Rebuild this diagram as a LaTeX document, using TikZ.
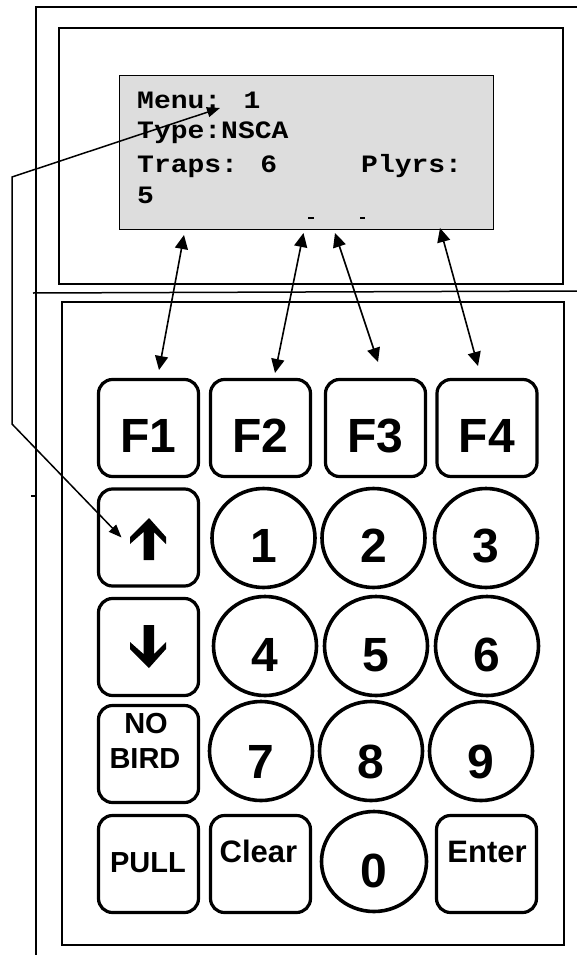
\documentclass[tikz,border=0pt]{standalone}
\usepackage{fontspec}
\setmainfont{Liberation Sans}
\newfontfamily\lcdfont{Liberation Mono}[FakeStretch=1.12]
\usetikzlibrary{arrows.meta,shapes.geometric}
\definecolor{lcdgray}{RGB}{221,221,221}
\begin{document}
\begin{tikzpicture}[x=1pt,y=-1pt,
  frame/.style={line width=1.5pt},
  keybox/.style={draw, rounded corners=14pt, line width=3.2pt, minimum width=100pt, minimum height=97pt, inner sep=0pt},
  numkey/.style={draw, ellipse, line width=3.6pt, minimum width=103pt, minimum height=99pt, inner sep=0pt},
  biglbl/.style={anchor=base, inner sep=0pt, font=\fontsize{48}{48}\selectfont\bfseries},
  smalllbl/.style={anchor=base, inner sep=0pt, font=\fontsize{29}{29}\selectfont\bfseries},
  midlbl/.style={anchor=base, inner sep=0pt, font=\fontsize{31}{31}\selectfont\bfseries},
  lcdline/.style={anchor=base west, inner sep=0pt, font=\lcdfont\fontsize{25}{30}\selectfont\bfseries},
  link/.style={line width=1.6pt, {Triangle[length=14pt,width=13pt]}-{Triangle[length=14pt,width=13pt]}},
  bentlink/.style={line width=1.5pt, {Triangle[length=13pt,width=10pt]}-{Triangle[length=13pt,width=10pt]}},
  arrowglyph/.style={fill=black}
]
\useasboundingbox[fill=white] (0,0) rectangle (577,955);

% outer housing lines
\draw[frame] (577,7) -- (36,7) -- (36,955);
\draw[frame] (33,293) -- (577,291);
\draw[frame] (31,496) -- (37,496);

% display frame and LCD
\draw[frame] (59,28) rectangle (563,284);
\node[draw, fill=lcdgray, line width=1.5pt, minimum width=374pt, minimum height=153.5pt, inner sep=0pt] (lcd) at (306.25,152.5) {};
\node[lcdline] (l1) at (137,109) {Menu: 1};
\node[lcdline] (l2) at (137,139) {Type:NSCA};
\node[lcdline] (l3) at (137,172) {Traps: 6\ \ \ \ \ Plyrs:};
\node[lcdline] (l4) at (137,203) {5};
\draw[line width=1.5pt] (308,218) -- (314,218);
\draw[line width=1.5pt] (360,218) -- (365,218);

% keypad frame
\draw[frame] (62,302) rectangle (564,945);

% function keys
\node[keybox] (f1) at (148.5,428) {};
\node[keybox] (f2) at (260.5,428) {};
\node[keybox] (f3) at (375.5,428) {};
\node[keybox] (f4) at (487,428) {};
\node[biglbl] (f1t) at (148.5,452) {F1};
\node[biglbl] (f2t) at (260.5,452) {F2};
\node[biglbl] (f3t) at (375.5,452) {F3};
\node[biglbl] (f4t) at (487,452) {F4};

% left column keys
\node[keybox] (up) at (148.5,537.5) {};
\node[keybox] (down) at (148.5,647) {};
\node[keybox] (nobird) at (148.5,754) {};
\node[keybox] (pull) at (148.5,864) {};
\node[keybox] (clear) at (260.5,864) {};
\node[keybox] (enter) at (486.5,864) {};

\fill[arrowglyph] (149,518) -- (166,537) -- (166,544) -- (154,532) -- (154,560) -- (143.5,560) -- (143.5,532) -- (130,544) -- (130,537) -- cycle;
\fill[arrowglyph] (149,668) -- (166,649) -- (166,642) -- (154,654) -- (154,625) -- (143.5,625) -- (143.5,654) -- (130,642) -- (130,649) -- cycle;

\node[smalllbl] (not) at (146,733) {NO};
\node[smalllbl] (birdt) at (145,768) {BIRD};
\node[smalllbl] (pullt) at (148,872) {PULL};
\node[midlbl] (cleart) at (258.5,862) {Clear};
\node[midlbl] (entert) at (487,862) {Enter};

% number keys
\node[numkey] (n1) at (263.5,538) {};
\node[numkey] (n2) at (373.5,538) {};
\node[numkey] (n3) at (486,538) {};
\node[numkey] (n4) at (265,646) {};
\node[numkey] (n5) at (376,646) {};
\node[numkey] (n6) at (487,646) {};
\node[numkey] (n7) at (261,751) {};
\node[numkey] (n8) at (371,751) {};
\node[numkey] (n9) at (481,751) {};
\node[numkey, minimum width=105pt, minimum height=100pt] (n0) at (374,861.5) {};
\node[biglbl] (n1t) at (263.5,562) {1};
\node[biglbl] (n2t) at (373.5,562) {2};
\node[biglbl] (n3t) at (486,562) {3};
\node[biglbl] (n4t) at (265,671) {4};
\node[biglbl] (n5t) at (376,671) {5};
\node[biglbl] (n6t) at (487,671) {6};
\node[biglbl] (n7t) at (261,778) {7};
\node[biglbl] (n8t) at (371,778) {8};
\node[biglbl] (n9t) at (481,778) {9};
\node[biglbl] (n0t) at (374,887) {0};

% connectors
\coordinate (m1) at (220,108);
\coordinate (b1) at (12,177);
\coordinate (b2) at (12,424);
\coordinate (u1) at (121.5,537.5);
\draw[bentlink] (m1) -- (b1) -- (b2) -- (u1);

\coordinate (t1) at (184,235);
\coordinate (k1) at (159,370);
\coordinate (t2) at (303.5,233);
\coordinate (k2) at (275,373);
\coordinate (t3) at (335,233);
\coordinate (k3) at (378,362);
\coordinate (t4) at (440,228);
\coordinate (k4) at (478,366);
\draw[link] (t1) -- (k1);
\draw[link] (t2) -- (k2);
\draw[link] (t3) -- (k3);
\draw[link] (t4) -- (k4);
\end{tikzpicture}
\end{document}
